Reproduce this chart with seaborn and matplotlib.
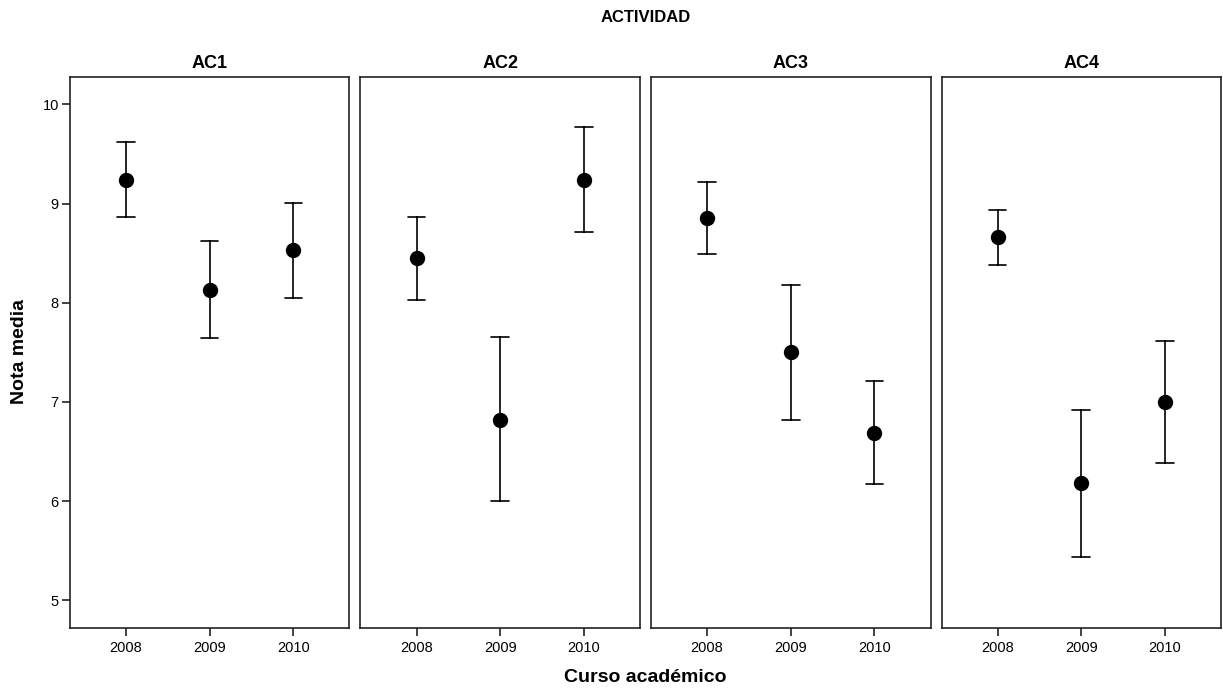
import matplotlib
matplotlib.use("Agg")
import matplotlib.pyplot as plt
import seaborn as sns
import pandas as pd
import numpy as np

# ---- data ----
activities = ["AC1", "AC2", "AC3", "AC4"]
years = ["2008", "2009", "2010"]
mean_ac1 = [9.24, 8.13, 8.53]
low_ac1 = [8.87, 7.64, 8.05]
up_ac1 = [9.62, 8.62, 9.01]
mean_ac2 = [8.45, 6.82, 9.24]
low_ac2 = [8.03, 6.00, 8.71]
up_ac2 = [8.87, 7.65, 9.77]
mean_ac3 = [8.86, 7.50, 6.69]
low_ac3 = [8.49, 6.82, 6.17]
up_ac3 = [9.22, 8.18, 7.21]
mean_ac4 = [8.66, 6.18, 7.00]
low_ac4 = [8.38, 5.44, 6.38]
up_ac4 = [8.94, 6.92, 7.61]
y_ticks = [5, 6, 7, 8, 9, 10]

series = {
    "AC1": (mean_ac1, low_ac1, up_ac1),
    "AC2": (mean_ac2, low_ac2, up_ac2),
    "AC3": (mean_ac3, low_ac3, up_ac3),
    "AC4": (mean_ac4, low_ac4, up_ac4),
}
rows = []
for act, (m, lo, hi) in series.items():
    for i, yr in enumerate(years):
        for v in (lo[i], m[i], hi[i]):
            rows.append({"act": act, "year": yr, "value": v})
df = pd.DataFrame(rows)

sns.set_theme(style="white")
plt.rcParams["font.family"] = ["Liberation Sans", "DejaVu Sans"]
plt.rcParams["text.color"] = "black"
plt.rcParams["xtick.color"] = "black"
plt.rcParams["ytick.color"] = "black"

fig, axes = plt.subplots(1, 4, figsize=(12.23, 6.88), dpi=100, sharey=True)
fig.subplots_adjust(left=0.0572, right=0.9984, top=0.8885, bottom=0.0872, wspace=0.0394)

for ax, act in zip(axes, activities):
    sub = df[df["act"] == act]
    sns.pointplot(data=sub, x="year", y="value", order=years, ax=ax,
                  estimator="median", errorbar=lambda x: (np.min(x), np.max(x)),
                  linestyle="none", color="black", markers="o", markersize=9,
                  capsize=0.21, err_kws={"linewidth": 1.2})
    ax.set_xlim(-0.67, 2.67)
    ax.set_ylim(4.72, 10.28)
    ax.set_yticks(y_ticks)
    ax.set_xlabel("")
    ax.set_ylabel("")
    ax.set_title(act, fontsize=13, fontweight="bold", pad=6, color="black")
    for s in ax.spines.values():
        s.set_visible(True)
        s.set_color("#222222")
        s.set_linewidth(1.2)
    ax.tick_params(axis="x", bottom=True, length=6, width=1.2, color="#222222",
                   labelcolor="black", labelsize=10.5, pad=3)
    if ax is axes[0]:
        ax.tick_params(axis="y", left=True, length=6, width=1.2, color="#222222",
                       labelcolor="black", labelsize=10.5, pad=2)
    else:
        ax.tick_params(axis="y", left=False, labelleft=False)

fig.text(0.5277, 1 - 18 / 688, "ACTIVIDAD", ha="center", va="center",
         fontsize=12, fontweight="bold", color="black")
fig.text(0.5277, 1 - 678 / 688, "Curso académico", ha="center", va="center",
         fontsize=14, fontweight="bold", color="black")
fig.text(20 / 1223, 1 - 352 / 688, "Nota media", ha="center", va="center",
         rotation=90, fontsize=14, fontweight="bold", color="black")

fig.savefig("out.png", dpi=100, facecolor="white")
